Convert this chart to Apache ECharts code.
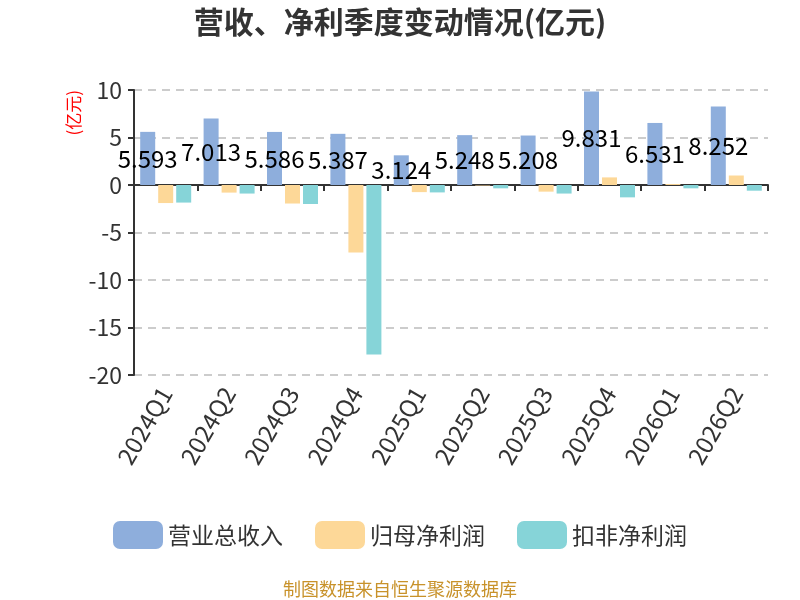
<!DOCTYPE html>
<html>
<head>
<meta charset="utf-8">
<script src="https://cdn.jsdelivr.net/npm/echarts@6/dist/echarts.min.js"></script>
<style>
  html, body { margin: 0; padding: 0; background: #fff; }
  #main { width: 800px; height: 600px; }
</style>
</head>
<body>
<div id="main"></div>
<script>
var quarters = ['2024Q1', '2024Q2', '2024Q3', '2024Q4', '2025Q1', '2025Q2', '2025Q3', '2025Q4', '2026Q1', '2026Q2'];
var revenue = [5.593, 7.013, 5.586, 5.387, 3.124, 5.248, 5.208, 9.831, 6.531, 8.252];
var netProfit = [-1.9, -0.8, -1.95, -7.1, -0.75, -0.05, -0.7, 0.8, 0.1, 1.0];
var deductedProfit = [-1.85, -0.9, -2.0, -17.85, -0.78, -0.35, -0.9, -1.3, -0.35, -0.6];
var yTicks = { min: -20, max: 10, interval: 5 };

var font = 'Noto Sans CJK SC';

var option = {
    title: {
        text: '营收、净利季度变动情况(亿元)',
        left: 'center',
        top: 2,
        textStyle: { fontSize: 30, fontWeight: 'bold', color: '#333', fontFamily: font }
    },
    grid: { left: 134, right: 32, top: 90, bottom: 225, outerBoundsMode: 'none' },
    legend: {
        top: 516,
        itemWidth: 50,
        itemHeight: 28,
        itemGap: 32,
        icon: 'roundRect',
        textStyle: { fontSize: 23, color: '#333', fontFamily: font },
        data: ['营业总收入', '归母净利润', '扣非净利润']
    },
    graphic: [{
        type: 'text',
        left: 'center',
        top: 580,
        style: { text: '制图数据来自恒生聚源数据库', fontSize: 18, fill: '#c8922a', fontFamily: font }
    }],
    xAxis: {
        type: 'category',
        data: quarters,
        axisLine: { onZero: true, lineStyle: { color: '#333', width: 2 } },
        axisTick: { show: true, length: 6, lineStyle: { color: '#333', width: 2 } },
        axisLabel: { rotate: 60, fontSize: 24, color: '#333', margin: 14, fontFamily: font }
    },
    yAxis: {
        type: 'value',
        min: yTicks.min,
        max: yTicks.max,
        interval: yTicks.interval,
        name: '(亿元)',
        nameLocation: 'end',
        nameRotate: 90,
        nameGap: 0,
        nameTextStyle: { color: 'red', fontSize: 17, align: 'right', verticalAlign: 'bottom', padding: [0, 0, 52, 0], fontFamily: font },
        axisLine: { show: true, lineStyle: { color: '#333', width: 2 } },
        axisTick: { show: true, length: 6, lineStyle: { color: '#333', width: 2 } },
        axisLabel: { fontSize: 23, color: '#333', margin: 12, fontFamily: font },
        splitLine: { lineStyle: { type: [8, 6], color: '#ccc', width: 2 } }
    },
    series: [{
        name: '营业总收入',
        type: 'bar',
        data: revenue,
        barWidth: 15,
        barGap: '20%',
        itemStyle: { color: '#8eaedc' },
        label: { show: true, position: 'inside', color: '#000', fontSize: 24, fontFamily: font }
    }, {
        name: '归母净利润',
        type: 'bar',
        data: netProfit,
        barWidth: 15,
        barGap: '20%',
        itemStyle: { color: '#fdd898' }
    }, {
        name: '扣非净利润',
        type: 'bar',
        data: deductedProfit,
        barWidth: 15,
        barGap: '20%',
        itemStyle: { color: '#86d4d8' }
    }]
};

var myChart = echarts.init(document.getElementById('main'));
myChart.setOption(option);
</script>
</body>
</html>
